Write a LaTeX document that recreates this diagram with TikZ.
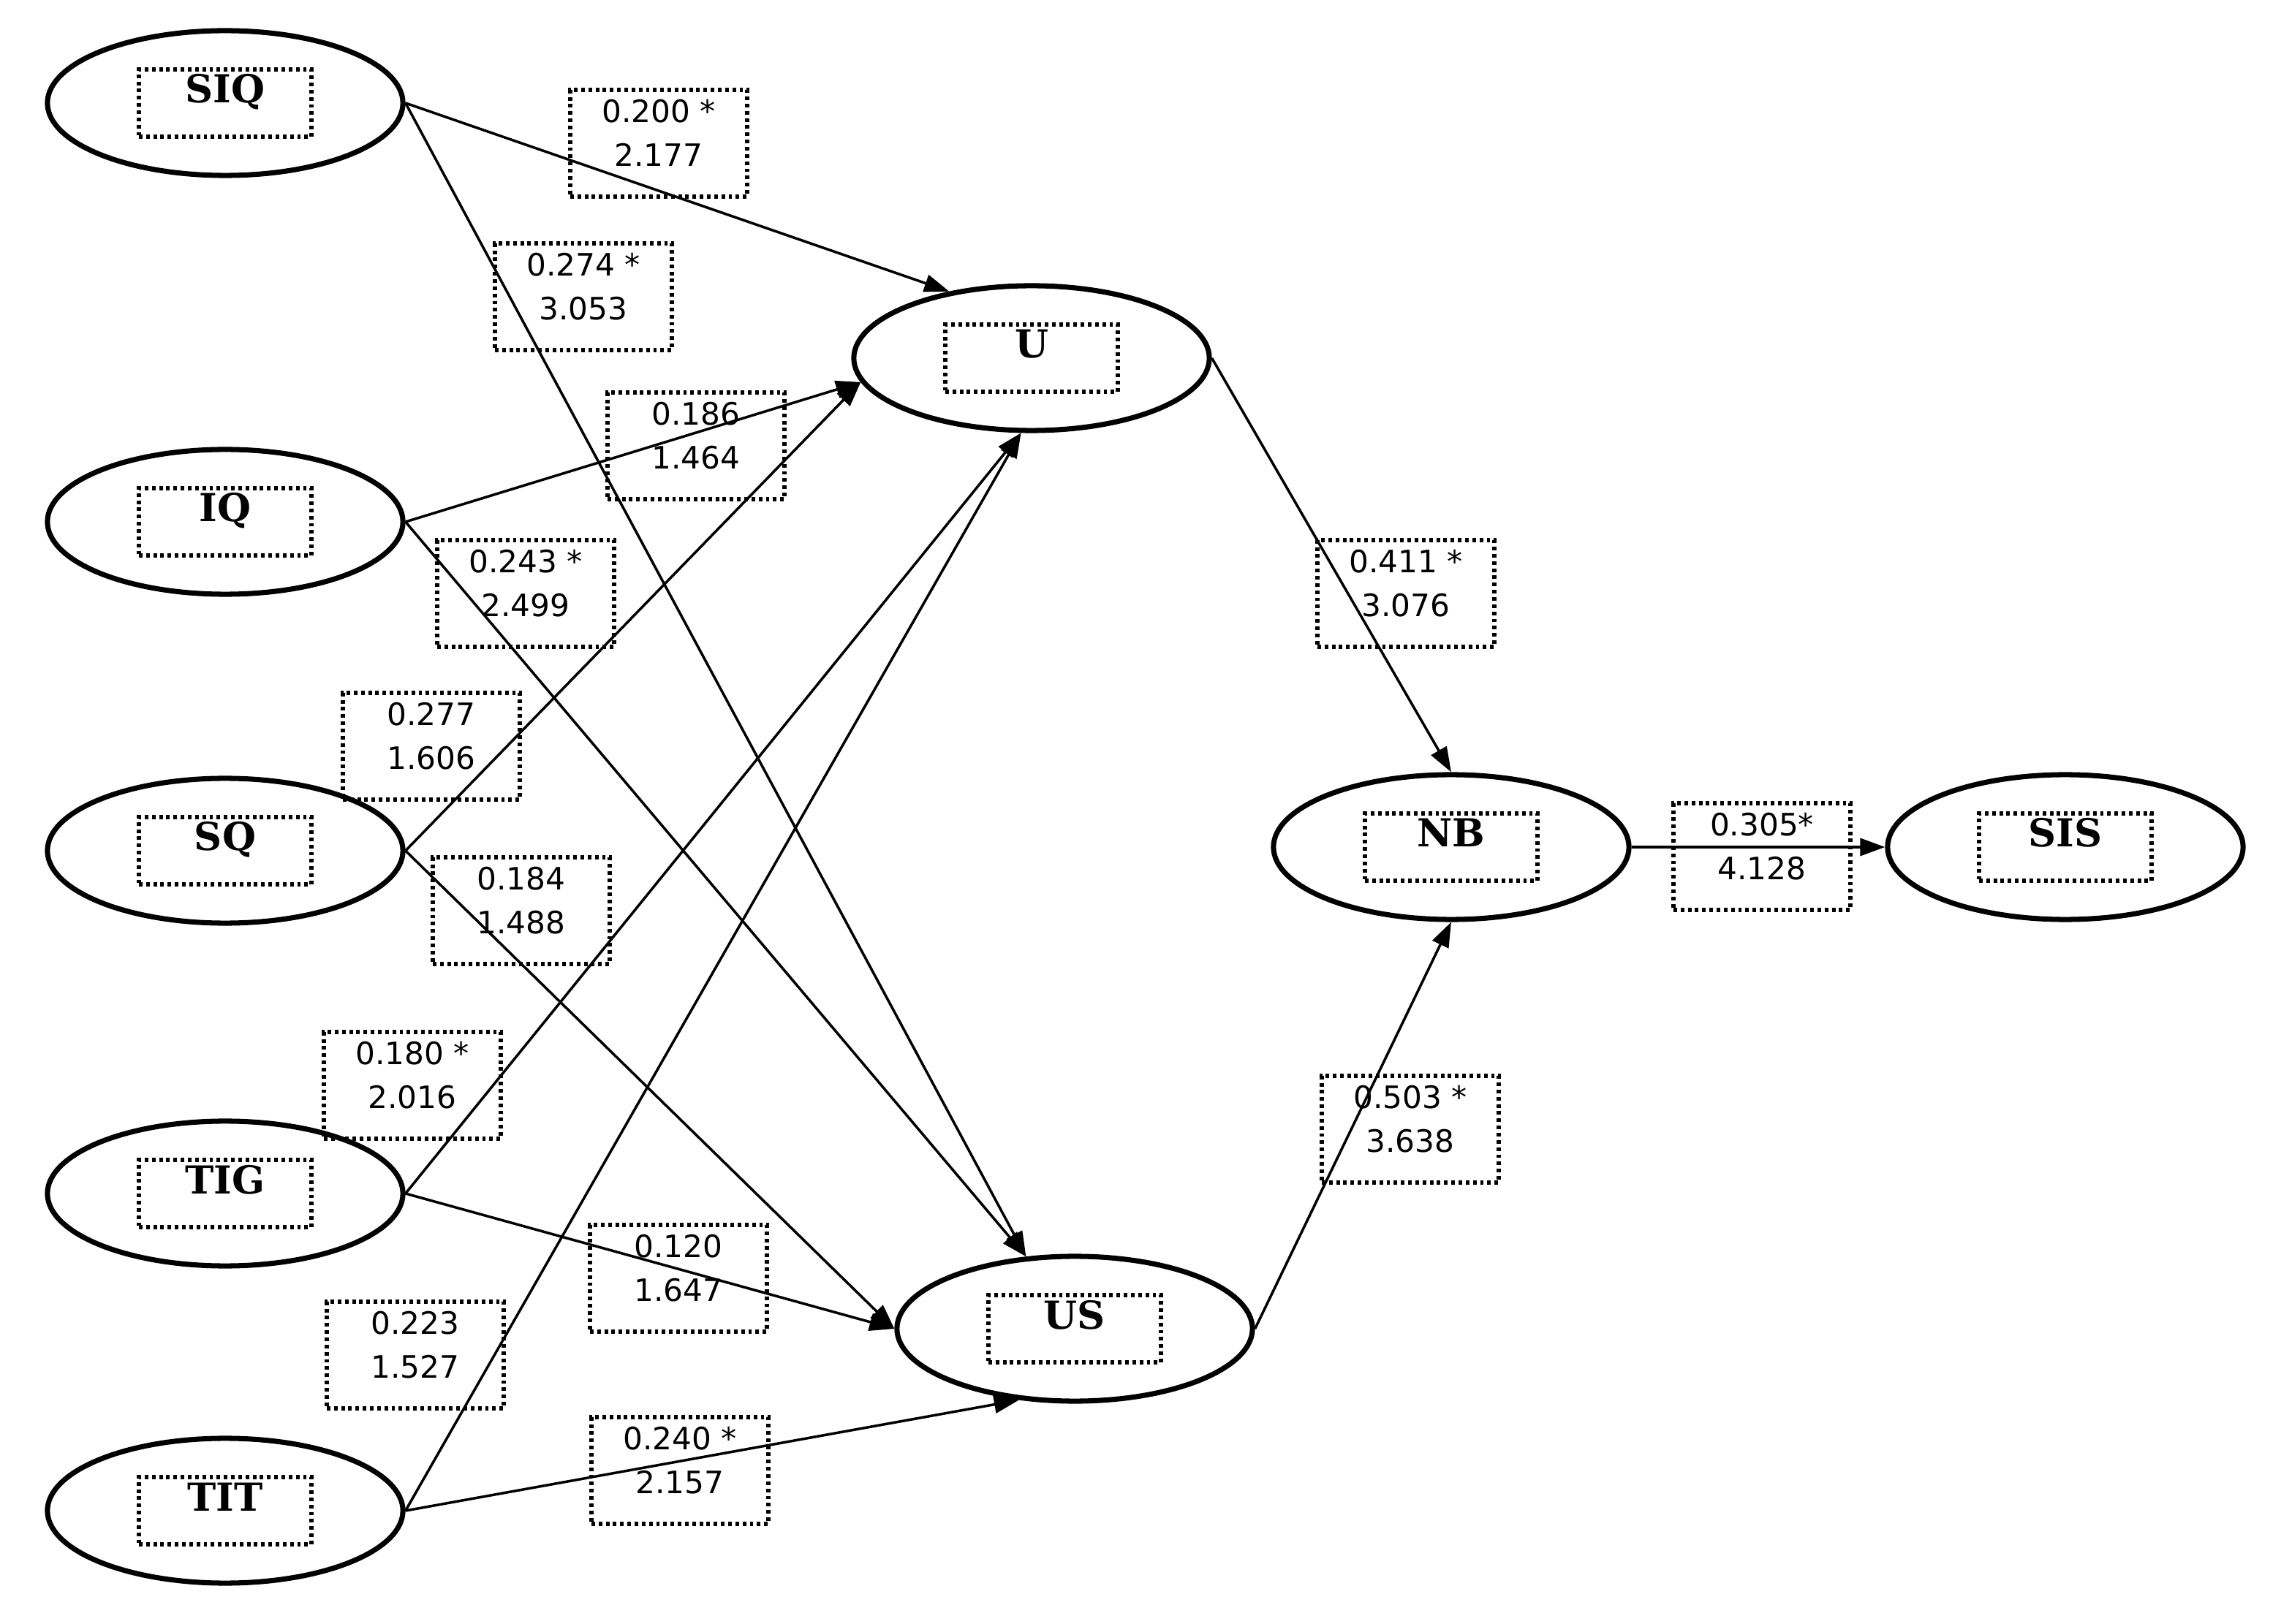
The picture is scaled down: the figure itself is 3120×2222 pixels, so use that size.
\documentclass[tikz,border=0pt]{standalone}
\usepackage{fontspec}
\setmainfont{DejaVu Serif}
\newfontfamily\coeffont{DejaVu Sans}
\usetikzlibrary{arrows.meta,shapes.geometric}

\tikzset{
  latent/.style={ellipse, draw, line width=2pt, minimum width=4.86cm, minimum height=1.98cm, inner sep=0pt},
  inbox/.style={draw, line width=1.6pt, dash pattern=on 1.4pt off 1.4pt, minimum width=2.36cm,
    text height=0.38cm, text depth=0.38cm, inner xsep=0pt, inner ysep=0.08cm,
    font=\bfseries\fontsize{15}{17}\selectfont},
  coef/.style={draw, line width=1.6pt, dash pattern=on 1.4pt off 1.4pt, minimum width=2.42cm, minimum height=1.46cm, inner sep=0pt},
  coeftext/.style={align=center, inner sep=0pt, font=\coeffont\fontsize{12}{17}\selectfont},
  link/.style={-{Triangle[length=0.34cm,width=0.24cm]}, line width=1pt}
}

\begin{document}
\begin{tikzpicture}[x=0.01cm, y=-0.01cm]
  \useasboundingbox (0,0) rectangle (3120,2222);

  % Constructs
  \foreach \nm/\x/\y in {SIQ/308/141, IQ/308/714, SQ/308/1164, TIG/308/1633, TIT/308/2067,
      U/1411/490, US/1470/1818, NB/1985/1159, SIS/2825/1159}
  {
    \node[latent] (\nm) at (\x,\y) {};
    \node[inbox] (\nm-in) at (\nm) {\nm};
  }

  % Paths
  \draw[link] (SIQ.east) -- (U.141);
  \draw[link] (SIQ.east) -- (US.124);
  \draw[link] (IQ.east) -- (U.188);
  \draw[link] (IQ.east) -- (US.124);
  \draw[link] (SQ.east) -- (U.188);
  \draw[link] (SQ.east) -- (US.west);
  \draw[link] (TIG.east) -- (U.262);
  \draw[link] (TIG.east) -- (US.west);
  \draw[link] (TIT.east) -- (U.262);
  \draw[link] (TIT.east) -- (US.232);
  \draw[link] (U.east) -- (NB.north);
  \draw[link] (US.east) -- (NB.south);
  \draw[link] (NB.east) -- (SIS.west);

  % Coefficients and t values
  \foreach \nm/\x/\y/\va/\vb in {
      cSIQU/901/196/0.200 */2.177,
      cSIQUS/798/406/0.274 */3.053,
      cIQU/952/610/0.186/1.464,
      cIQUS/719/812/0.243 */2.499,
      cSQU/590/1021/0.277/1.606,
      cSQUS/713/1246/0.184/1.488,
      cTIGU/564/1485/0.180 */2.016,
      cTIGUS/928/1749/0.120/1.647,
      cTITU/568/1854/0.223/1.527,
      cTITUS/930/2012/0.240 */2.157,
      cUNB/1923/812/0.411 */3.076,
      cUSNB/1929/1545/0.503 */3.638,
      cNBSIS/2410/1172/0.305*/4.128}
  {
    \node[coef] (\nm) at (\x,\y) {};
    \node[coeftext] (\nm-t) at ([yshift=0.14cm]\nm.center) {\va\\\vb};
  }
\end{tikzpicture}
\end{document}
